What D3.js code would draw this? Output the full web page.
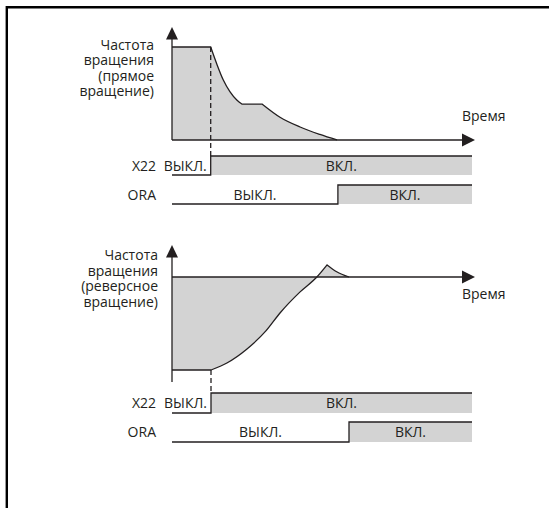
<!DOCTYPE html>
<html>
<head>
<meta charset="utf-8">
<script src="https://cdn.jsdelivr.net/npm/d3@7"></script>
<style>
  body { margin: 0; background: #fff; }
  svg { display: block; font-family: "Open Sans", sans-serif; font-size: 14px; }
  text { fill: #231f20; }
  .ink { fill: none; stroke: #231f20; stroke-width: 1.3; }
  .area { fill: #d3d3d3; stroke: none; }
</style>
</head>
<body>
<svg id="chart" width="549" height="508"></svg>
<script>
// forward rotation: time (axis units 0..100), speed (% of max)
var fwdTime  = [0, 12.9, 14.9, 17.1, 19.3, 21.6, 23.4, 30.1, 36, 42.7, 49.3, 55];
var fwdSpeed = [100, 100, 82, 64.5, 52, 43, 38.5, 38.5, 24.5, 14, 6, 0];

// reverse rotation
var revTime  = [0, 13, 18.3, 25, 31.3, 36, 42.7, 48.3, 51.7, 54.9, 59];
var revSpeed = [-100, -100, -92.5, -77.4, -58, -38.7, -16, 0, 13, 5.7, 0];

// signals: switch-on time for each diagram
var signalNames = ['X22', 'ORA'];
var x22On = [12.9, 13];
var oraOn = [55.3, 59];
var stateLabels = ['ВЫКЛ.', 'ВКЛ.'];

var timeLabel = 'Время';
var fwdLabel = ['Частота', 'вращения', '(прямое', 'вращение)'];
var revLabel = ['Частота', 'вращения', '(реверсное', 'вращение)'];

var svg = d3.select('#chart');
var x = d3.scaleLinear().domain([0, 100]).range([172, 472]);

// frame (top + left rule)
svg.append('path')
    .attr('d', 'M549,7.2H6.8V508')
    .attr('fill', 'none')
    .attr('stroke', '#000')
    .attr('stroke-width', 2.4);

// split the curve where the slope changes sign so the corners stay sharp
function pieces(ts, ss) {
    var out = [], cur = [[ts[0], ss[0]]], sign = null;
    for (var i = 1; i < ts.length; i++) {
        var sg = Math.sign(ss[i] - ss[i - 1]);
        if (sign !== null && sg !== sign) {
            out.push({ flat: sign === 0, pts: cur });
            cur = [cur[cur.length - 1]];
        }
        sign = sg;
        cur.push([ts[i], ss[i]]);
    }
    out.push({ flat: sign === 0, pts: cur });
    return out;
}

function curvePath(y, ts, ss) {
    var lin = d3.line().x(function(d) { return x(d[0]); }).y(function(d) { return y(d[1]); });
    var mono = d3.line().x(function(d) { return x(d[0]); }).y(function(d) { return y(d[1]); })
        .curve(d3.curveMonotoneX);
    return pieces(ts, ss).map(function(p, i) {
        var s = (p.flat ? lin : mono)(p.pts);
        return i ? s.replace(/^M[-\d.,e]+/, '') : s;
    }).join('');
}

function diagram(cfg) {
    var g = svg.append('g');
    var y = cfg.y;
    var y0 = y(0), x0 = x(0);
    var line = curvePath(y, cfg.time, cfg.speed);

    //filled area between curve and zero line
    g.append('path')
        .attr('class', 'area')
        .attr('d', 'M' + x0 + ',' + y0 + 'L' + line.slice(1) + 'Z');

    //axes
    g.append('line').attr('class', 'ink')
        .attr('x1', x0).attr('y1', cfg.axisBottom)
        .attr('x2', x0).attr('y2', cfg.axisTop + 12);
    g.append('path')
        .attr('fill', '#231f20')
        .attr('d', 'M' + x0 + ',' + cfg.axisTop + 'l6,12.5h-12z');
    g.append('line').attr('class', 'ink')
        .attr('x1', x0).attr('y1', y0)
        .attr('x2', 463).attr('y2', y0);
    g.append('path')
        .attr('fill', '#231f20')
        .attr('d', 'M475,' + y0 + 'l-13,-6.5v13z');

    g.append('path').attr('class', 'ink').attr('d', line);

    g.append('text')
        .attr('x', 462).attr('y', cfg.timeY)
        .text(timeLabel);

    g.append('text')
        .attr('text-anchor', 'end')
        .selectAll('tspan')
        .data(cfg.label)
        .enter().append('tspan')
        .attr('x', cfg.labelX)
        .attr('y', function(d, i) { return cfg.labelY + i * cfg.labelStep; })
        .text(function(d) { return d; });

    //dashed marker at X22 switch
    g.append('line').attr('class', 'ink')
        .attr('stroke-width', 1)
        .attr('stroke-dasharray', '5,3')
        .attr('x1', x(cfg.x22)).attr('y1', y(cfg.speed[0]))
        .attr('x2', x(cfg.x22)).attr('y2', cfg.rows[0]);

    [cfg.x22, cfg.ora].forEach(function(sw, k) {
        var hi = cfg.rows[k], lo = hi + cfg.rowH, mid = (hi + lo) / 2 + 5;
        var xs = x(sw), xe = x(100);

        g.append('rect').attr('class', 'area')
            .attr('x', xs).attr('y', hi)
            .attr('width', xe - xs).attr('height', lo - hi);
        g.append('path').attr('class', 'ink')
            .attr('d', 'M' + x0 + ',' + lo + 'H' + xs + 'V' + hi + 'H' + xe);

        g.append('text')
            .attr('text-anchor', 'end')
            .attr('x', 156).attr('y', mid)
            .text(signalNames[k]);

        var narrow = xs - x0 < 60;
        g.append('text')
            .attr('text-anchor', narrow ? 'end' : 'middle')
            .attr('x', narrow ? xs - 4 : (x0 + xs) / 2).attr('y', mid)
            .text(stateLabels[0]);
        g.append('text')
            .attr('text-anchor', 'middle')
            .attr('x', (xs + xe) / 2).attr('y', mid)
            .text(stateLabels[1]);
    });
}

diagram({
    y: d3.scaleLinear().domain([0, 100]).range([140, 47]),
    time: fwdTime, speed: fwdSpeed,
    axisTop: 27, axisBottom: 140,
    timeY: 121,
    label: fwdLabel, labelX: 154, labelY: 49.5, labelStep: 15.5,
    x22: x22On[0], ora: oraOn[0],
    rows: [156, 185], rowH: 19
});

diagram({
    y: d3.scaleLinear().domain([-100, 0]).range([370, 277]),
    time: revTime, speed: revSpeed,
    axisTop: 245, axisBottom: 382,
    timeY: 299,
    label: revLabel, labelX: 158, labelY: 260, labelStep: 15.7,
    x22: x22On[1], ora: oraOn[1],
    rows: [393, 422], rowH: 20
});
</script>
</body>
</html>
